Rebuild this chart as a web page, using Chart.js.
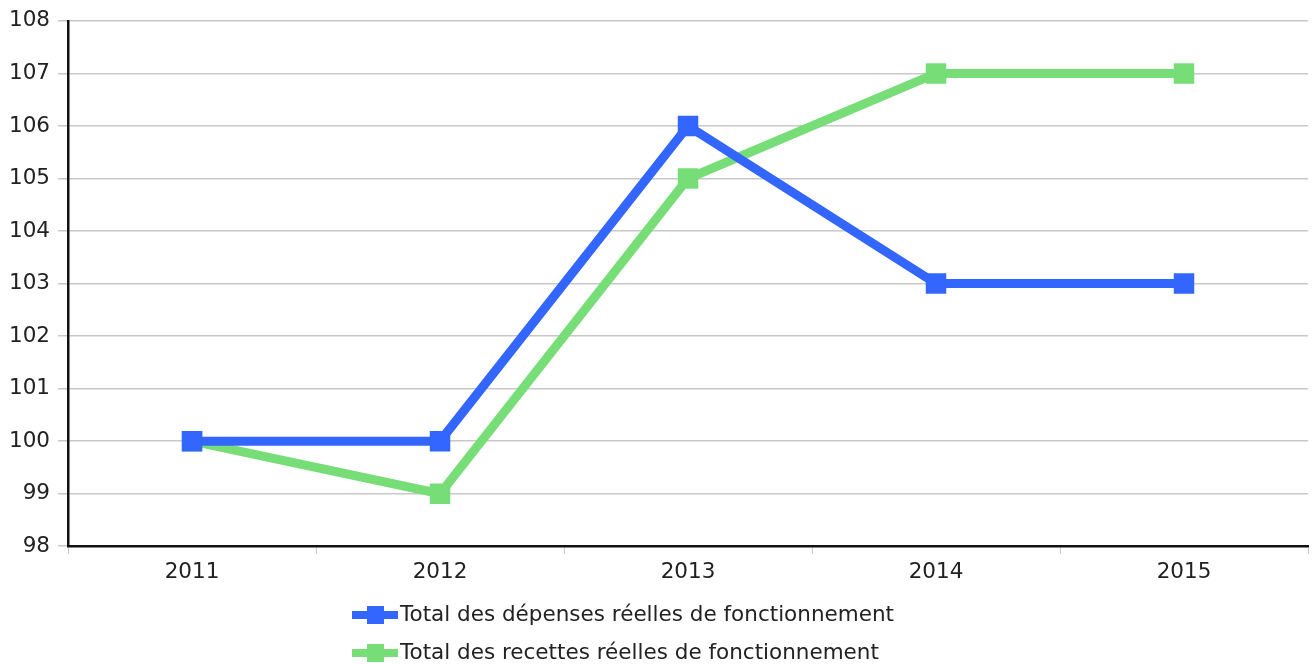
<!DOCTYPE html>
<html>
<head>
<meta charset="utf-8">
<script src="https://cdn.jsdelivr.net/npm/chart.js@4"></script>
<style>
  html, body { margin: 0; padding: 0; background: #fff; overflow: hidden; }
  #chart { display: block; }
</style>
</head>
<body>
<canvas id="chart" width="1316" height="664"></canvas>
<script>
const years = ['2011', '2012', '2013', '2014', '2015'];
const depenses = [100, 100, 106, 103, 103];
const recettes = [100, 99, 105, 107, 107];
const seriesNames = [
    'Total des dépenses réelles de fonctionnement',
    'Total des recettes réelles de fonctionnement'
];
const yTicks = [98, 99, 100, 101, 102, 103, 104, 105, 106, 107, 108];

const BLUE = '#3366ff';
const GREEN = '#77dd77';
const FONT = 'DejaVu Sans';
const FONT_SIZE = 21.5;

// legend drawn below the plot, one entry per row
const stackedLegend = {
    id: 'stackedLegend',
    afterDraw(chart) {
        const ctx = chart.ctx;
        const left = 352;
        let y = 615;
        ctx.save();
        chart.data.datasets.forEach((ds) => {
            ctx.strokeStyle = ds.borderColor;
            ctx.lineWidth = 8;
            ctx.beginPath();
            ctx.moveTo(left, y);
            ctx.lineTo(left + 46, y);
            ctx.stroke();
            ctx.fillStyle = ds.borderColor;
            ctx.fillRect(left + 15, y - 9, 17, 18);
            ctx.fillStyle = '#222';
            ctx.font = FONT_SIZE + 'px "' + FONT + '"';
            ctx.textBaseline = 'middle';
            ctx.textAlign = 'left';
            ctx.fillText(ds.label, left + 48, y);
            y += 38;
        });
        ctx.restore();
    }
};

new Chart(document.getElementById('chart'), {
    type: 'line',
    data: {
        labels: years,
        datasets: [
            {
                label: seriesNames[0],
                data: depenses,
                borderColor: BLUE,
                backgroundColor: BLUE,
                borderWidth: 9,
                pointStyle: 'rect',
                pointRadius: 14.5,
                pointBorderWidth: 0,
                pointBackgroundColor: BLUE,
                tension: 0
            },
            {
                label: seriesNames[1],
                data: recettes,
                borderColor: GREEN,
                backgroundColor: GREEN,
                borderWidth: 9,
                pointStyle: 'rect',
                pointRadius: 14.5,
                pointBorderWidth: 0,
                pointBackgroundColor: GREEN,
                tension: 0
            }
        ]
    },
    options: {
        responsive: false,
        animation: false,
        layout: {
            autoPadding: false,
            padding: { left: 1, right: 8, top: 18, bottom: 74 }
        },
        plugins: {
            legend: { display: false },
            tooltip: { enabled: false }
        },
        scales: {
            x: {
                offset: true,
                grid: {
                    offset: true,
                    drawOnChartArea: false,
                    drawTicks: true,
                    tickLength: 8,
                    color: '#c8c8c8'
                },
                border: { color: '#111', width: 2.5 },
                ticks: {
                    color: '#222',
                    font: { family: FONT, size: FONT_SIZE },
                    padding: 5
                }
            },
            y: {
                min: 98,
                max: 108,
                afterBuildTicks(axis) {
                    axis.ticks = yTicks.map(v => ({ value: v }));
                },
                grid: {
                    color: '#c8c8c8',
                    lineWidth: 1.5,
                    tickLength: 10
                },
                border: { color: '#111', width: 2.5 },
                ticks: {
                    color: '#222',
                    font: { family: FONT, size: FONT_SIZE },
                    padding: 8
                }
            }
        }
    },
    plugins: [stackedLegend]
});
</script>
</body>
</html>
